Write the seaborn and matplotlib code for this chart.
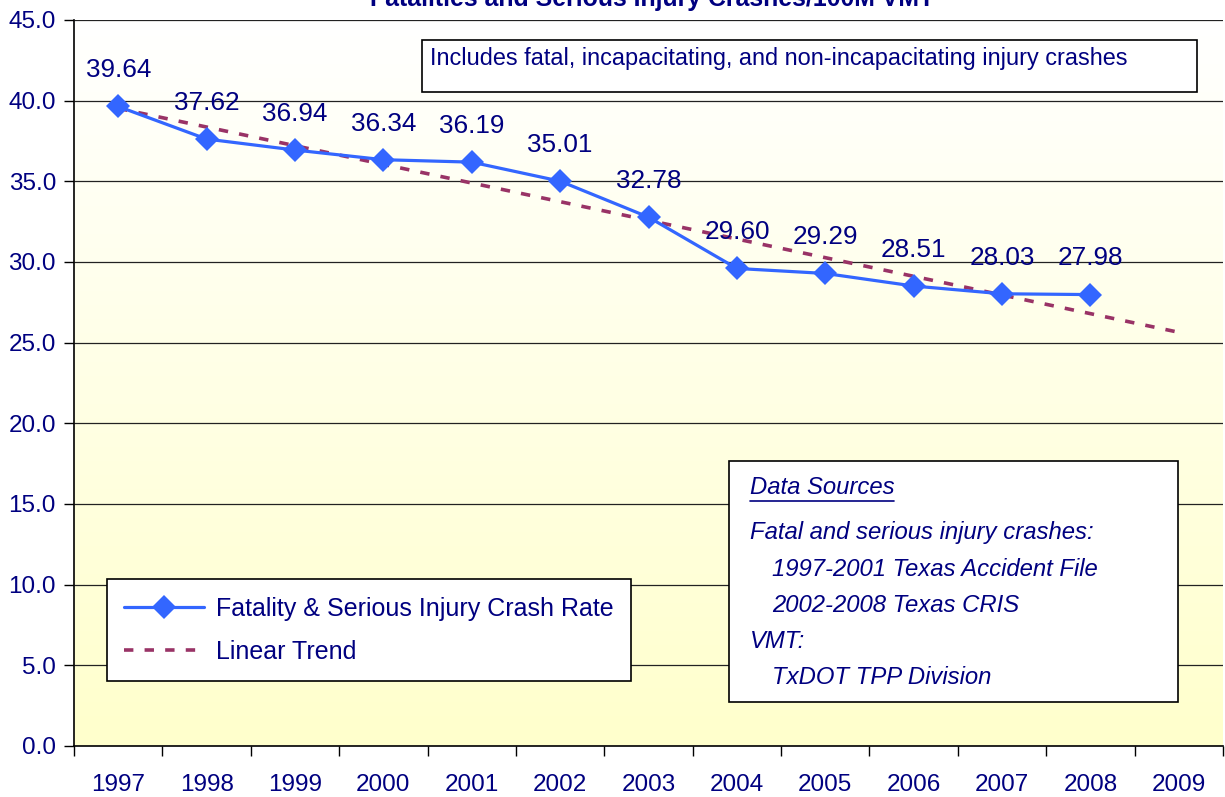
import numpy as np
import matplotlib
matplotlib.use("Agg")
import matplotlib.pyplot as plt
import seaborn as sns
from matplotlib.lines import Line2D
from matplotlib.patches import Rectangle
from matplotlib.colors import LinearSegmentedColormap

# data
years = [1997, 1998, 1999, 2000, 2001, 2002, 2003, 2004, 2005, 2006, 2007, 2008]
rates = [39.64, 37.62, 36.94, 36.34, 36.19, 35.01, 32.78, 29.60, 29.29, 28.51, 28.03, 27.98]
axis_years = years + [2009]
y_ticks = [0, 5, 10, 15, 20, 25, 30, 35, 40, 45]

navy = "#000080"
blue = "#3366FF"
maroon = "#993366"

sns.set_style("white")
plt.rcParams["font.family"] = ["Liberation Sans", "DejaVu Sans"]

fig = plt.figure(figsize=(12.25, 7.97), dpi=100)
ax = fig.add_axes([74 / 1225, 51 / 797, 1149 / 1225, 726 / 797])

# gradient background: pale yellow at bottom fading to white at top
grad = np.linspace(0, 1, 256).reshape(-1, 1)
cmap = LinearSegmentedColormap.from_list("bg", ["#FFFFCC", "#FFFFFF"])
ax.imshow(grad, aspect="auto", cmap=cmap, extent=[1996.5, 2009.5, 0, 45],
          zorder=0, origin="lower")

# linear trend (Excel-style, forecast one period)
coef = np.polyfit(years, rates, 1)
trend = np.polyval(coef, axis_years)
dash = (0, (2.6, 3.1))
sns.lineplot(x=axis_years, y=trend, ax=ax, color=maroon, lw=2.6,
             linestyle=dash, zorder=3)

sns.lineplot(x=years, y=rates, ax=ax, color=blue, lw=2.3, marker="D",
             markersize=12, markeredgewidth=0, zorder=4)

for yr, r in zip(years, rates):
    ax.annotate(f"{r:.2f}", (yr, r), xytext=(0, 26), textcoords="offset points",
                ha="center", va="center", fontsize=18.8, color=navy, zorder=5)

ax.set_xlim(1996.5, 2009.5)
ax.set_ylim(0, 45)
ax.set_yticks(y_ticks)
ax.set_yticklabels([f"{v:.1f}" for v in y_ticks], fontsize=17.5, color=navy)
ax.yaxis.grid(True, color="#222222", lw=0.9)
ax.set_axisbelow(False)
for gl in ax.get_ygridlines():
    gl.set_zorder(1)

ax.set_xticks(np.arange(1996.5, 2009.6, 1))
ax.set_xticklabels([])
ax.set_xticks(axis_years, minor=True)
ax.set_xticklabels([str(y) for y in axis_years], minor=True, fontsize=17.5, color=navy)
ax.tick_params(axis="x", which="major", length=7, width=1, color="black", direction="out")
ax.tick_params(axis="x", which="minor", length=0, pad=20)
ax.tick_params(axis="y", length=7, width=1, color="black", direction="out", pad=6)
ax.tick_params(bottom=True, left=True)

for side in ["top", "right"]:
    ax.spines[side].set_visible(False)
for side in ["left", "bottom"]:
    ax.spines[side].set_color("black")
    ax.spines[side].set_linewidth(1.2)

fig.text(652 / 1225, 1 - 6 / 797, "Fatalities and Serious Injury Crashes/100M VMT",
         ha="center", va="baseline", fontsize=17.9, fontweight="bold", color=navy)

# note box at top
ax.add_patch(Rectangle((0.303, 0.901), 0.674, 0.071, transform=ax.transAxes,
                       facecolor="white", edgecolor="black", lw=1.2, zorder=6))
ax.text(0.310, 0.947, "Includes fatal, incapacitating, and non-incapacitating injury crashes",
        transform=ax.transAxes, ha="left", va="center", fontsize=16.9, color=navy, zorder=7)

# data sources box
ax.add_patch(Rectangle((0.570, 0.0606), 0.391, 0.332, transform=ax.transAxes,
                       facecolor="white", edgecolor="black", lw=1.2, zorder=6))
src_lines = [
    (0.588, 0.3567, "Data Sources"),
    (0.588, 0.2934, "Fatal and serious injury crashes:"),
    (0.6075, 0.2438, "1997-2001 Texas Accident File"),
    (0.6075, 0.194, "2002-2008 Texas CRIS"),
    (0.588, 0.1446, "VMT:"),
    (0.6075, 0.095, "TxDOT TPP Division"),
]
for x, y, s in src_lines:
    ax.text(x, y, s, transform=ax.transAxes, ha="left", va="center", fontsize=17.2,
            style="italic", color=navy, zorder=7)
ax.add_line(Line2D([0.588, 0.714], [0.338, 0.338], transform=ax.transAxes,
                   color=navy, lw=1.2, zorder=7))

handles = [
    Line2D([], [], color=blue, lw=2.3, marker="D", markersize=12, markeredgewidth=0),
    Line2D([], [], color=maroon, lw=2.6, linestyle=dash),
]
leg = ax.legend(handles, ["Fatality & Serious Injury Crash Rate", "Linear Trend"],
                loc="lower left", bbox_to_anchor=(0.0287, 0.0895), borderaxespad=0,
                fontsize=18, labelcolor=navy, frameon=True, fancybox=False,
                edgecolor="black", framealpha=1, handlelength=3.2, borderpad=0.7,
                labelspacing=0.75, handletextpad=0.45)
leg.get_frame().set_linewidth(1.2)
leg.set_zorder(8)

fig.savefig("out.png", dpi=100)
